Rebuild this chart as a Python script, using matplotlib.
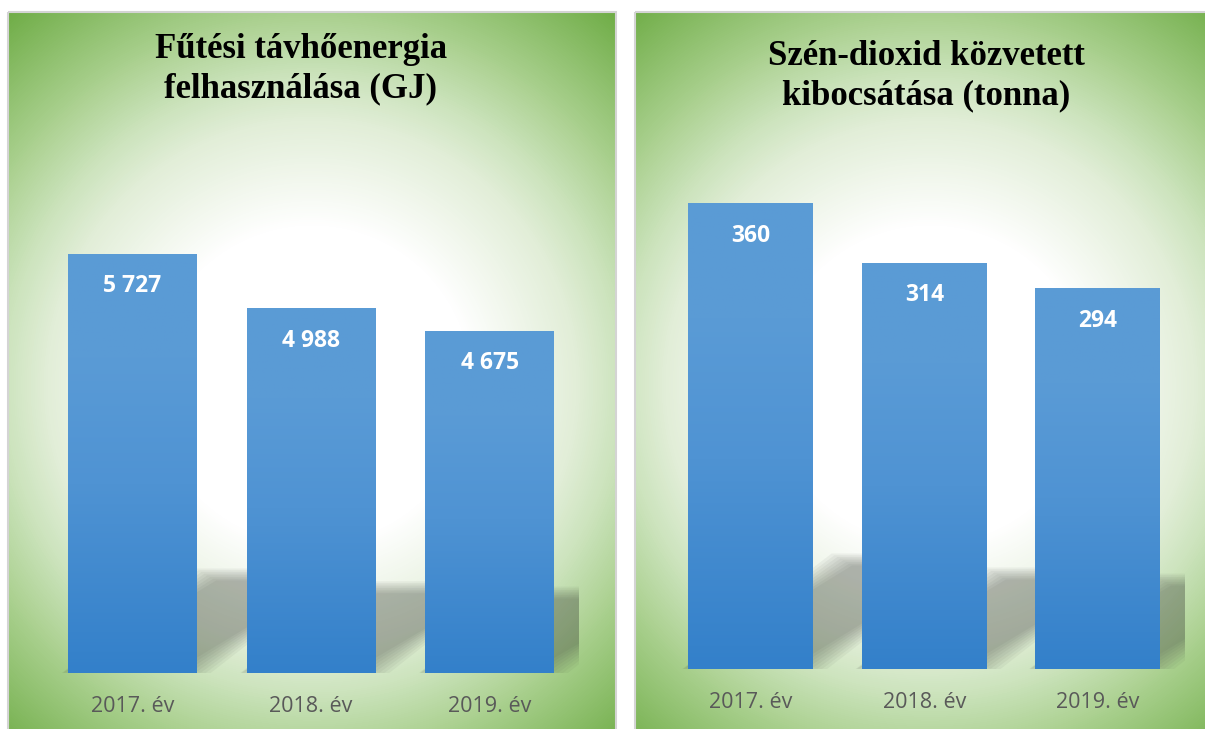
import numpy as np
import matplotlib
matplotlib.use('Agg')
import matplotlib.pyplot as plt
from matplotlib.colors import LinearSegmentedColormap
from matplotlib.patches import Rectangle, Polygon

# data
years = ['2017. év', '2018. év', '2019. év']
heat_gj = [5727, 4988, 4675]
heat_labels = ['5 727', '4 988', '4 675']
co2_t = [360, 314, 294]
co2_labels = ['360', '314', '294']

W, H = 1205, 729
fig = plt.figure(figsize=(W / 100, H / 100), dpi=100)

# background layer in pixel coords (origin top-left)
bg_ax = fig.add_axes([0, 0, 1, 1])
bg_ax.set_xlim(0, W)
bg_ax.set_ylim(H, 0)
bg_ax.axis('off')

green = LinearSegmentedColormap.from_list('green_glow', [
    (0.0, '#ffffff'), (0.33, '#ffffff'), (0.55, '#e2eed8'),
    (0.64, '#cde4be'), (0.78, '#a8cf8c'), (1.0, '#70ad47')])
blue = LinearSegmentedColormap.from_list('bar_blue', [
    (0.0, '#3380ca'), (0.45, '#4f93d3'), (0.75, '#5a9bd6'), (1.0, '#5b9bd5')])


def panel_bg(x0, x1, y0, y1, cx, cy):
    yy, xx = np.mgrid[y0:y1, x0:x1] + 0.5
    d = np.hypot(xx - cx, yy - cy)
    img = green(np.clip(d / 480.0, 0, 1))
    bg_ax.imshow(img, extent=(x0, x1, y1, y0), interpolation='bilinear',
                 aspect='auto', zorder=0)
    bg_ax.add_patch(Rectangle((x0, y0), x1 - x0, y1 - y0, fill=False,
                              ec='#d4d4d4', lw=1.5, zorder=1))


panel_bg(8, 616, 12, 732, 312, 385)
panel_bg(635, 1207, 12, 732, 930, 385)
bg_ax.set_xlim(0, W)
bg_ax.set_ylim(H, 0)


def draw_panel(rect, values, labels, ymax, width):
    ax = fig.add_axes(rect)
    ax.axis('off')
    ax.set_xlim(-0.5, len(values) - 0.5)
    ax.set_ylim(0, ymax)
    x = np.arange(len(values))
    bars = ax.bar(x, values, width=width, color='#4a90d0', zorder=3)

    # perspective shadow behind each bar (pixel space, then back to data)
    n = 8
    a = 1 - (1 - 0.36) ** (1 / n)
    inv = ax.transData.inverted()
    for xi, v in zip(x, values):
        (pl, pb), (pr, pt) = ax.transData.transform([(xi - width / 2, 0), (xi + width / 2, v)])
        kh = 0.235 * (pt - pb)
        s = 1.4 * kh
        for o in np.linspace(-6, 6, n):
            poly = [(pl + o * 1.7, pb + 3 + o), (pr - o * 1.7, pb + 3 + o),
                    (pr + s - o * 1.7, pb + kh - o), (pl + s + o * 1.7, pb + kh - o)]
            ax.add_patch(Polygon(inv.transform(poly), closed=True, fc='#3a3f38',
                                 ec='none', alpha=a, zorder=2))

    # vertical gradient fill on the bars
    grad = np.linspace(0, 1, 256).reshape(-1, 1)
    for b in bars:
        im = ax.imshow(grad, cmap=blue, origin='lower', aspect='auto', zorder=4,
                       extent=(b.get_x(), b.get_x() + b.get_width(), 0, b.get_height()))
        im.set_clip_path(b)

    for xi, v, lbl in zip(x, values, labels):
        ax.annotate(lbl, (xi, v), xytext=(0, -23.5), textcoords='offset points',
                    ha='center', va='center', color='white', fontsize=16.5,
                    fontweight='bold', family='Open Sans', zorder=6)
    for xi, yr in zip(x, years):
        ax.annotate(yr, (xi, 0), xytext=(0, -23.8), textcoords='offset points',
                    ha='center', va='center', color='#595959', fontsize=15.5,
                    family='Open Sans', annotation_clip=False, zorder=6)
    ax.set_xlim(-0.5, len(values) - 0.5)
    ax.set_ylim(0, ymax)
    return ax


draw_panel([43 / W, 56 / H, 536 / W, 512.4 / H], heat_gj, heat_labels, 7000, 0.72)
draw_panel([664 / W, 60 / H, 520.5 / W, 517.8 / H], co2_t, co2_labels, 400, 0.718)

title_kw = dict(ha='center', va='baseline', fontsize=25, fontweight='bold',
                family='Liberation Serif', color='black')
fig.text(301 / W, 1 - 58 / H, 'Fűtési távhőenergia', **title_kw)
fig.text(301 / W, 1 - 97 / H, 'felhasználása (GJ)', **title_kw)
fig.text(926 / W, 1 - 65 / H, 'Szén-dioxid közvetett', **title_kw)
fig.text(926 / W, 1 - 104 / H, 'kibocsátása (tonna)', **title_kw)

fig.savefig('out.png', dpi=100)
